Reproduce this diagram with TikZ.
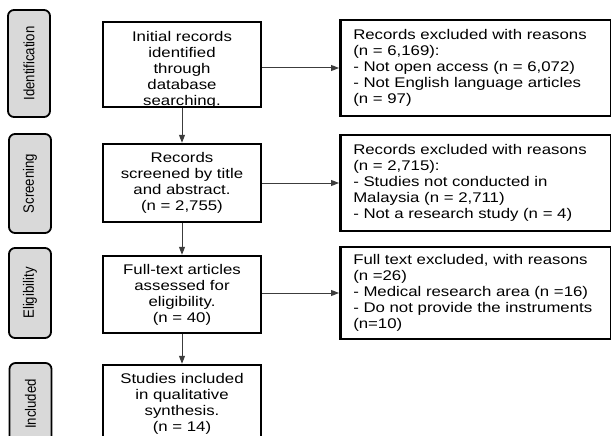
\documentclass[tikz,border=0pt]{standalone}
\usepackage{fontspec}
\setmainfont[FakeStretch=1.2]{Liberation Sans}
\newfontfamily\sidefont[FakeStretch=0.88]{Liberation Sans}
\usetikzlibrary{arrows.meta}
\definecolor{sidegray}{RGB}{217,217,217}
\definecolor{linkgray}{RGB}{60,60,60}

\begin{document}
\begin{tikzpicture}[x=1pt, y=-1pt,
        main/.style = {draw, line width=2.5pt, align=center, minimum width=158pt, inner sep=2pt, font=\fontsize{14}{16}\selectfont},
        inside/.style = {align=center, font=\fontsize{14}{16}\selectfont},
        note/.style = {draw, line width=2.5pt, align=left, text width=245pt, inner xsep=13pt, inner ysep=2pt, font=\fontsize{14}{16}\selectfont},
        side/.style = {draw, line width=1.8pt, rounded corners=6pt, fill=sidegray, minimum width=42pt, inner sep=0pt, font=\sidefont\fontsize{15}{16}\selectfont},
        link/.style = {draw=linkgray, line width=1pt, -{Triangle[length=8pt,width=6pt]}}]
        \useasboundingbox (0,0) rectangle (611,436);
        % stages
        \node[side, minimum height=107pt] (s1) at (29,63.5) {\rotatebox{90}{Identification}};
        \node[side, minimum height=99pt] (s2) at (30,183.5) {\rotatebox{90}{Screening}};
        \node[side, minimum height=90pt] (s3) at (30,293) {\rotatebox{90}{Eligibility}};
        \node[side, minimum height=82pt] (s4) at (30.5,404) {\rotatebox{90}{Included}};
        % main column
        \node[main, minimum height=85pt, label={[inside, yshift=-5pt]center:Initial records\\identified\\through\\database\\searching.}] (1) at (182,64.5) {};
        \node[main, minimum height=78pt] (2) at (182,183) {Records\\screened by title\\and abstract.\\(n = 2,755)};
        \node[main, minimum height=77pt] (3) at (182,294.5) {Full-text articles\\assessed for\\eligibility.\\(n = 40)};
        \node[main, minimum height=77pt] (4) at (182,403.5) {Studies included\\in qualitative\\synthesis.\\(n = 14)};
        % exclusions
        \node[note, minimum height=96pt, anchor=west] (e1) at (339,68) {Records excluded with reasons\\(n = 6,169):\\- Not open access (n = 6,072)\\- Not English language articles\\(n = 97)};
        \node[note, minimum height=96pt, anchor=west] (e2) at (339,183) {Records excluded with reasons\\(n = 2,715):\\- Studies not conducted in\\Malaysia (n = 2,711)\\- Not a research study (n = 4)};
        \node[note, minimum height=92pt, anchor=west] (e3) at (339,293) {Full text excluded, with reasons\\(n =26)\\- Medical research area (n =16)\\- Do not provide the instruments\\(n=10)};
        \draw[link] (1) -- (2);
        \draw[link] (2) -- (3);
        \draw[link] (3) -- (4);
        \draw[link] (1.east |- e1) -- (e1);
        \draw[link] (2.east |- e2) -- (e2);
        \draw[link] (3.east |- e3) -- (e3);
\end{tikzpicture}
\end{document}
